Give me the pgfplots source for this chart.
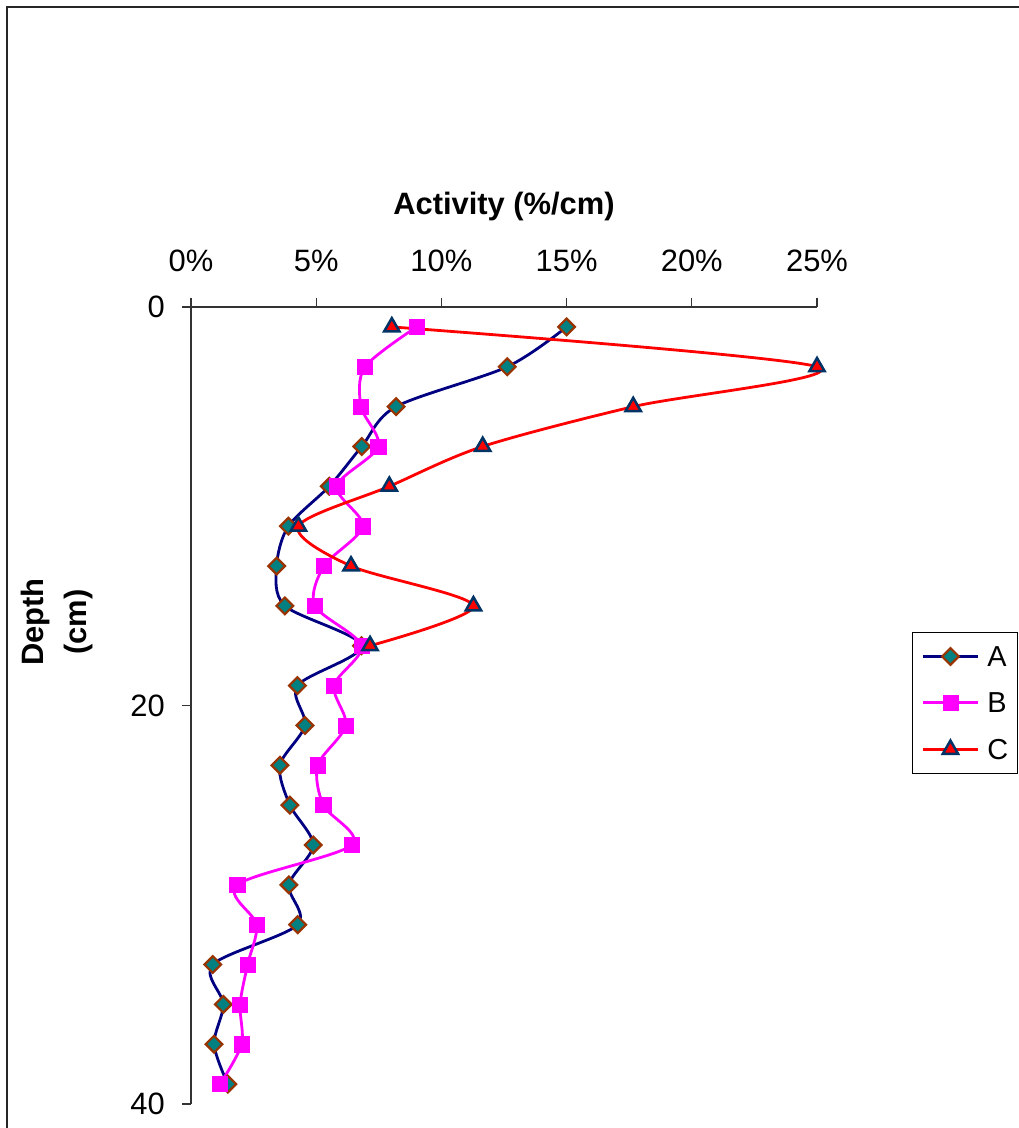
\documentclass[border=0pt]{standalone}
\usepackage{fontspec}
\setmainfont{Liberation Sans}
\usepackage{pgfplots}
\usepackage{pgfplotstable}
\pgfplotsset{compat=1.18}

\definecolor{navyA}{HTML}{000080}
\definecolor{tealA}{HTML}{008080}
\definecolor{brownA}{HTML}{993300}
\definecolor{magB}{HTML}{FF00FF}
\definecolor{redC}{HTML}{FF0000}
\definecolor{navyC}{HTML}{003366}

% depth (cm) vs activity (%/cm)
\pgfplotstableread{
depth act
1  15.00
3  12.63
5  8.19
7  6.82
9  5.52
11 3.89
13 3.42
15 3.75
17 6.81
19 4.25
21 4.55
23 3.55
25 3.95
27 4.88
29 3.91
31 4.26
33 0.87
35 1.29
37 0.92
39 1.47
}\dataA

\pgfplotstableread{
depth act
1  9.01
3  6.95
5  6.79
7  7.48
9  5.82
11 6.86
13 5.31
15 4.95
17 6.81
19 5.71
21 6.18
23 5.06
25 5.28
27 6.42
29 1.85
31 2.62
33 2.26
35 1.96
37 2.02
39 1.16
}\dataB

\pgfplotstableread{
depth act
1  8.02
3  25.00
5  17.66
7  11.65
9  7.92
11 4.29
13 6.39
15 11.28
17 7.15
}\dataC

\pgfplotsset{
  markA/.style={mark=square*, mark size=5.9bp,
    mark options={solid, rotate=45, fill=tealA, draw=brownA, line width=2.2bp}},
  markB/.style={mark=square*, mark size=7.6bp,
    mark options={solid, fill=magB, draw=magB, line width=0.5bp}},
  markC/.style={mark=triangle*, mark size=8.8bp,
    mark options={solid, fill=redC, draw=navyC, line width=2.5bp}},
}

\begin{document}
\begin{tikzpicture}[x=1bp,y=1bp]
\useasboundingbox (0,0) rectangle (1019,1128);
\draw[line width=1.6bp, black!85] (7,-10) -- (7,1121) -- (1030,1121);

\node[font=\fontsize{31}{31}\selectfont\bfseries, anchor=base, inner sep=0pt]
  at (504,913) {Activity (\%/cm)};
\node[font=\fontsize{31}{43.5}\selectfont\bfseries, align=center, rotate=90, inner sep=0pt]
  at (57,506) {Depth\\(cm)};

\begin{axis}[
  at={(191bp,24bp)}, anchor=south west,
  scale only axis, width=626bp, height=797bp,
  xmin=0, xmax=25, ymin=0, ymax=40,
  y dir=reverse,
  axis x line*=top,
  axis y line*=left,
  clip=false,
  xtick={0,5,...,25},
  ytick={0,20,40},
  xticklabel={\pgfmathprintnumber{\tick}\%},
  /pgf/number format/assume math mode=true,
  tick align=outside,
  major tick length=9bp,
  axis line style={line width=1.3bp, black!80, -},
  tick style={line width=1.3bp, black!80},
  tick label style={font=\fontsize{31}{31}\selectfont, inner sep=0pt},
  xticklabel style={anchor=base, yshift=26bp},
  yticklabel style={anchor=east, xshift=-17bp},
  legend style={at={(axis description cs:1.1518,0.5922)}, anchor=north west,
    draw=black, line width=1bp, fill=white,
    font=\fontsize{29}{29}\selectfont,
    inner xsep=9bp, inner ysep=14bp,
    nodes={inner sep=0pt, text depth=0pt},
    column sep=8bp, row sep=26.5bp},
  legend cell align=left,
  legend image code/.code={
    \draw[mark repeat=2, mark phase=2, #1]
      plot coordinates {(0bp,0bp) (27.5bp,0bp) (55bp,0bp)};},
]
% lines first, then markers on top
\addplot[navyA, line width=2.8bp, smooth, tension=0.5, forget plot]
  table[x=act, y=depth] {\dataA};
\addplot[magB, line width=2.8bp, smooth, tension=0.5, forget plot]
  table[x=act, y=depth] {\dataB};
\addplot[redC, line width=2.8bp, smooth, tension=0.5, forget plot]
  table[x=act, y=depth] {\dataC};

\addplot[only marks, markA, forget plot] table[x=act, y=depth] {\dataA};
\addplot[only marks, markB, forget plot] table[x=act, y=depth] {\dataB};
\addplot[only marks, markC, forget plot] table[x=act, y=depth] {\dataC};

\addlegendimage{navyA, line width=2.8bp, markA}
\addlegendentry{A}
\addlegendimage{magB, line width=2.8bp, markB}
\addlegendentry{B}
\addlegendimage{redC, line width=2.8bp, markC}
\addlegendentry{C}
\end{axis}
\end{tikzpicture}
\end{document}
